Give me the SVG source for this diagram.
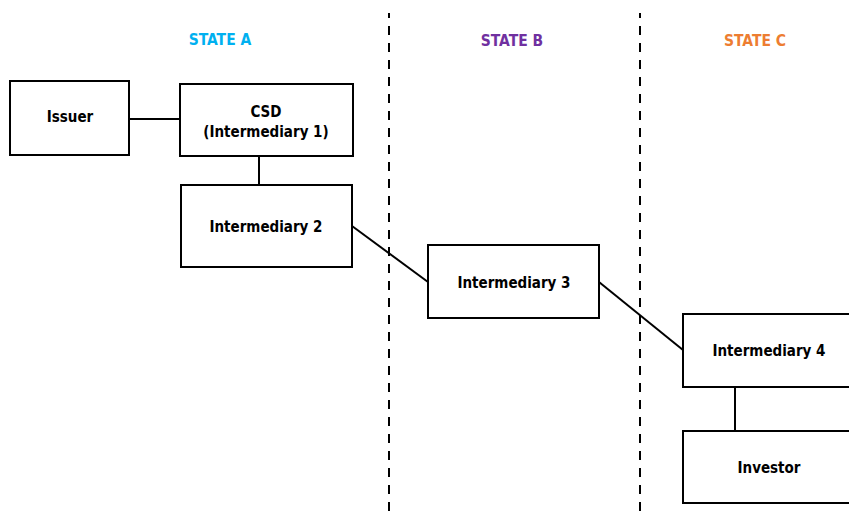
<svg xmlns="http://www.w3.org/2000/svg" width="849" height="518" viewBox="0 0 849 518">
<style>
.box{fill:#fff;stroke:#000;stroke-width:2}
.lbl{font-family:"DejaVu Sans Condensed","DejaVu Sans",sans-serif;font-stretch:condensed;font-weight:bold;font-size:15px;fill:#000;text-anchor:middle}
.st{font-family:"DejaVu Sans Condensed","DejaVu Sans",sans-serif;font-stretch:condensed;font-weight:bold;font-size:15.5px;text-anchor:middle}
.conn{stroke:#000;stroke-width:2;fill:none}
.div{stroke:#000;stroke-width:2;stroke-dasharray:9 8;stroke-dashoffset:4}
</style>
<rect width="849" height="518" fill="#fff"/>
<g id="dividers">
<line class="div" x1="389" y1="13" x2="389" y2="518"/>
<line class="div" x1="640" y1="13" x2="640" y2="518"/>
</g>
<g id="state-labels">
<text class="st" x="220" y="45" fill="#00B0F0">STATE A</text>
<text class="st" x="512" y="46" fill="#7030A0">STATE B</text>
<text class="st" x="755" y="46" fill="#ED7D31">STATE C</text>
</g>
<g id="connectors">
<line class="conn" x1="130" y1="119" x2="180" y2="119"/>
<line class="conn" x1="259" y1="156" x2="259" y2="185"/>
<line class="conn" x1="352" y1="226" x2="428" y2="282"/>
<line class="conn" x1="599" y1="282" x2="683" y2="350"/>
<line class="conn" x1="735" y1="387" x2="735" y2="431"/>
</g>
<g id="issuer">
<rect class="box" x="10" y="81" width="119" height="74"/>
<text class="lbl" x="70" y="122">Issuer</text>
</g>
<g id="csd">
<rect class="box" x="180" y="84" width="173" height="72"/>
<text class="lbl" x="266" y="117">CSD</text>
<text class="lbl" x="266" y="137">(Intermediary 1)</text>
</g>
<g id="intermediary2">
<rect class="box" x="181" y="185" width="171" height="82"/>
<text class="lbl" x="266" y="232">Intermediary 2</text>
</g>
<g id="intermediary3">
<rect class="box" x="428" y="245" width="171" height="73"/>
<text class="lbl" x="514" y="288">Intermediary 3</text>
</g>
<g id="intermediary4">
<rect class="box" x="683" y="314" width="180" height="73"/>
<text class="lbl" x="769" y="356">Intermediary 4</text>
</g>
<g id="investor">
<rect class="box" x="683" y="431" width="180" height="72"/>
<text class="lbl" x="769" y="473">Investor</text>
</g>
</svg>
